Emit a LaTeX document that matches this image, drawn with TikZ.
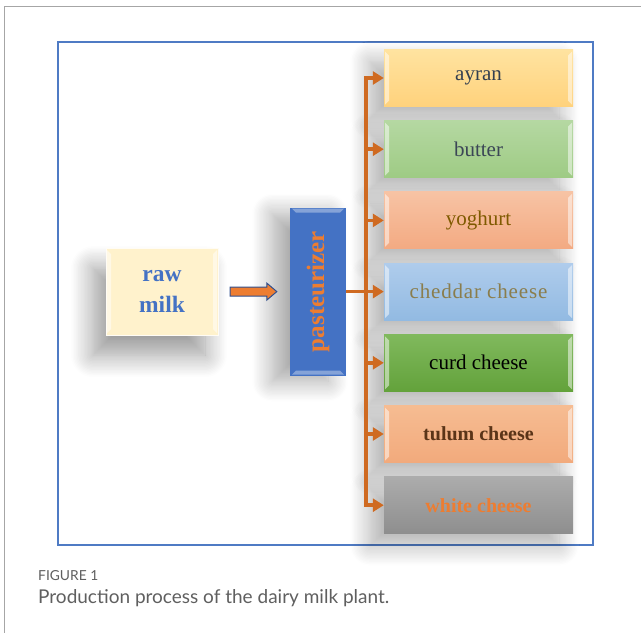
\documentclass[tikz,border=0pt]{standalone}
\usepackage{fontspec}
\setmainfont{Liberation Serif}
\newfontfamily\capfont{Lato}
\usepackage{xcolor}
\usetikzlibrary{arrows.meta,shadows.blur,calc}

\definecolor{frameblue}{HTML}{4F7BC4}
\definecolor{pastblue}{HTML}{4472C4}
\definecolor{flowor}{HTML}{ED7D31}
\definecolor{flowedge}{HTML}{2F4F8F}
\definecolor{trunkor}{HTML}{CF6A21}
\definecolor{milkfill}{HTML}{FFF2CC}
\definecolor{capgray}{HTML}{5F5F5F}
% box fills, top and bottom of each gradient
\definecolor{ayranA}{HTML}{FFE3A0}   \definecolor{ayranB}{HTML}{FFD27C}
\definecolor{butterA}{HTML}{B5D8A2}  \definecolor{butterB}{HTML}{9ECB84}
\definecolor{yogA}{HTML}{F7C3A4}     \definecolor{yogB}{HTML}{F3AA82}
\definecolor{chedA}{HTML}{AFCCEC}    \definecolor{chedB}{HTML}{92BAE2}
\definecolor{curdA}{HTML}{80B95D}    \definecolor{curdB}{HTML}{63A23B}
\definecolor{tulumA}{HTML}{F6BC92}   \definecolor{tulumB}{HTML}{F2AA7C}
\definecolor{whiteA}{HTML}{ACACAC}   \definecolor{whiteB}{HTML}{8E8E8E}
% label colours
\definecolor{ayrantxt}{HTML}{333F50}
\definecolor{buttertxt}{HTML}{3B4656}
\definecolor{yogtxt}{HTML}{7F5A00}
\definecolor{chedtxt}{HTML}{8A7D4C}
\definecolor{tulumtxt}{HTML}{5A3418}

\begin{document}
\begin{tikzpicture}[x=1pt, y=-1pt,
                shade/.style={blur shadow={shadow xshift=-14pt, shadow yshift=-12pt,
                    shadow blur radius=20pt, shadow blur steps=16, shadow opacity=32}},
                bevel/.style={path picture={
                    \fill[white, opacity=.5]
                        ([xshift=1pt,yshift=-2pt]path picture bounding box.north west) --
                        ([xshift=5pt,yshift=-6pt]path picture bounding box.north west) --
                        ([xshift=5pt,yshift=6pt]path picture bounding box.south west) --
                        ([xshift=1pt,yshift=2pt]path picture bounding box.south west) -- cycle;
                    \fill[white, opacity=.5]
                        ([xshift=-1pt,yshift=-2pt]path picture bounding box.north east) --
                        ([xshift=-5pt,yshift=-6pt]path picture bounding box.north east) --
                        ([xshift=-5pt,yshift=6pt]path picture bounding box.south east) --
                        ([xshift=-1pt,yshift=2pt]path picture bounding box.south east) -- cycle;}},
                product/.style={rectangle, minimum width=189pt, minimum height=57pt,
                    inner sep=0pt, align=center, font=\fontsize{21}{25}\selectfont, shade},
                branch/.style={draw=trunkor, line width=3.5pt},
                ->, >={Triangle[length=11pt,width=13pt]}
            ]
            \useasboundingbox (0,0) rectangle (641,633);

            % Page frame
            \draw[-, black!35, line width=1pt] (641,6) -- (4,6) -- (4,633);
            \draw[-, frameblue, line width=1.5pt] (58,42) rectangle (593,545);

            % Nodes
            \node[rectangle, draw=white!80!milkfill, fill=milkfill, minimum width=112pt,
                minimum height=87pt, align=center, text=pastblue, bevel,
                blur shadow={shadow xshift=-13pt, shadow yshift=-20pt,
                    shadow blur radius=22pt, shadow blur steps=16, shadow opacity=40},
                font=\fontsize{23.5}{31}\selectfont\bfseries] (rawmilk) at (162,291.6) {raw\\milk};
            \node[rectangle, fill=pastblue, minimum width=56pt, minimum height=168pt,
                inner sep=0pt, text=flowor, font=\fontsize{25}{30}\selectfont\bfseries,
                blur shadow={shadow xshift=-18pt, shadow yshift=-6pt,
                    shadow blur radius=20pt, shadow blur steps=16, shadow opacity=34},
                path picture={
                    \fill[white, opacity=.35]
                        ([xshift=2pt,yshift=-1pt]path picture bounding box.north west) --
                        ([xshift=-2pt,yshift=-1pt]path picture bounding box.north east) --
                        ([xshift=-6pt,yshift=-5pt]path picture bounding box.north east) --
                        ([xshift=6pt,yshift=-5pt]path picture bounding box.north west) -- cycle;
                    \fill[white, opacity=.35]
                        ([xshift=2pt,yshift=1pt]path picture bounding box.south west) --
                        ([xshift=-2pt,yshift=1pt]path picture bounding box.south east) --
                        ([xshift=-6pt,yshift=5pt]path picture bounding box.south east) --
                        ([xshift=6pt,yshift=5pt]path picture bounding box.south west) -- cycle;}
                ] (pasteurizer) at (318,291.6) {\rotatebox{90}{pasteurizer}};

            \node[product, bevel, top color=ayranA, bottom color=ayranB,
                text=ayrantxt] (ayran) at (478.5,78) {ayran};
            \node[product, bevel, top color=butterA, bottom color=butterB,
                text=buttertxt] (butter) at (478.5,149.2) {butter};
            \node[product, bevel, top color=yogA, bottom color=yogB,
                text=yogtxt] (yoghurt) at (478.5,220.4) {yoghurt};
            \node[product, bevel, top color=chedA, bottom color=chedB,
                text=chedtxt] (cheddar) at (478.5,291.6)
                {\addfontfeatures{LetterSpace=4}cheddar cheese};
            \node[product, bevel, top color=curdA, bottom color=curdB,
                text=black] (curd) at (478.5,362.8) {curd cheese};
            \node[product, bevel, top color=tulumA, bottom color=tulumB,
                text=tulumtxt, font=\fontsize{20}{24}\selectfont\bfseries]
                (tulum) at (478.5,434) {tulum cheese};
            \node[product, top color=whiteA, bottom color=whiteB,
                text=flowor, font=\fontsize{20}{24}\selectfont\bfseries]
                (white) at (478.5,505.2) {white cheese};

            % Caption
            \node[anchor=west, inner sep=0pt, text=capgray,
                font=\capfont\fontsize{13.8}{16}\selectfont] (figlabel) at (38,576) {FIGURE 1};
            \node[anchor=west, inner sep=0pt, text=capgray,
                font=\capfont\fontsize{19}{22}\selectfont] (figtext) at (38,598)
                {Production process of the dairy milk plant.};

            % Edges
            \coordinate (flowA) at ([xshift=12pt]rawmilk.east);
            \coordinate (flowB) at ([xshift=-13pt]pasteurizer.west);
            \draw[-, fill=flowor, draw=flowedge, line width=1pt, line join=miter]
                ([yshift=4.5pt]flowA) -- ([xshift=-10pt,yshift=4.5pt]flowB)
                -- ([xshift=-10pt,yshift=8.5pt]flowB) -- (flowB)
                -- ([xshift=-10pt,yshift=-8.5pt]flowB) -- ([xshift=-10pt,yshift=-4.5pt]flowB)
                -- ([yshift=-4.5pt]flowA) -- cycle;
            \coordinate (trunk) at (366,0);
            \draw[-, branch] (pasteurizer.east) -- (pasteurizer.east -| trunk);
            \draw[-, branch] (ayran.west -| trunk) -- (white.west -| trunk);
            \draw[branch] ([xshift=-1.75pt]ayran.west -| trunk) -- (ayran.west);
            \draw[branch] (butter.west -| trunk) -- (butter.west);
            \draw[branch] (yoghurt.west -| trunk) -- (yoghurt.west);
            \draw[branch] (cheddar.west -| trunk) -- (cheddar.west);
            \draw[branch] (curd.west -| trunk) -- (curd.west);
            \draw[branch] (tulum.west -| trunk) -- (tulum.west);
            \draw[branch] ([xshift=-1.75pt]white.west -| trunk) -- (white.west);

            \end{tikzpicture}
\end{document}
